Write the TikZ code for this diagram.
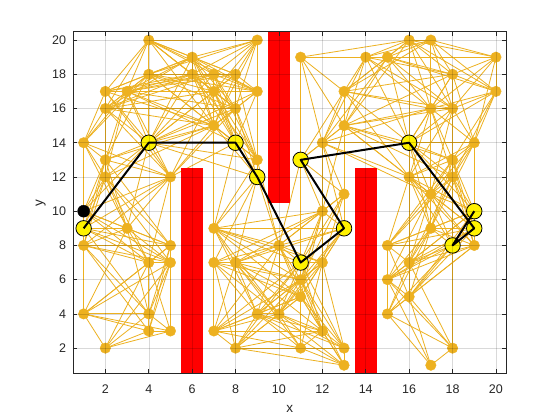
\documentclass[tikz,border=0pt]{standalone}
\usepackage{fontspec}
\setmainfont{Liberation Sans}
\definecolor{mlorange}{HTML}{EDB120}
\definecolor{axisgray}{HTML}{262626}
\tikzset{
  roadedge/.style={draw=mlorange, line width=0.8pt},
  roadnode/.style={circle, fill=mlorange, draw=mlorange, line width=0.4pt, minimum size=10.5pt, inner sep=0pt},
  pathnode/.style={circle, fill=yellow, draw=black, line width=0.8pt, minimum size=15.5pt, inner sep=0pt},
  startnode/.style={circle, fill=black, draw=black, minimum size=12pt, inner sep=0pt},
  pathline/.style={draw=black, line width=2pt, line join=round},
  obst/.style={fill=red},
  gridline/.style={draw=black, opacity=0.15, line width=0.5pt},
  axisline/.style={draw=axisgray, line width=0.6pt},
  ticklab/.style={text=axisgray, font=\fontsize{12.5}{14}\selectfont, inner sep=0pt},
  axlab/.style={text=axisgray, font=\fontsize{13.5}{15}\selectfont, inner sep=0pt},
}
\ExplSyntaxOn
\seq_new:N \g_rdm_x_seq
\seq_new:N \g_rdm_y_seq
\int_new:N \l_rdm_n_int
\int_new:N \l_rdm_dx_int
\int_new:N \l_rdm_dy_int
\tl_new:N \l_rdm_xa_tl
\tl_new:N \l_rdm_ya_tl
\tl_new:N \l_rdm_xb_tl
\tl_new:N \l_rdm_yb_tl
\tl_new:N \l_rdm_ddx_tl
\tl_new:N \l_rdm_ddy_tl
\cs_new_protected:Npn \rdm_add_pair:w #1/#2 \q_stop
  {
    \seq_gput_right:Nx \g_rdm_x_seq { \tl_trim_spaces:n {#1} }
    \seq_gput_right:Nx \g_rdm_y_seq { \tl_trim_spaces:n {#2} }
  }
\NewDocumentCommand \AddNodes { m }
  { \clist_map_inline:nn {#1} { \rdm_add_pair:w ##1 \q_stop } }
\cs_new:Npn \rdm_hit:nnnnnnnn #1#2#3#4#5#6#7#8
  {
    ( max ( 0 , min ( (#5-#1)/#3 , (#6-#1)/#3 ) , min ( (#7-#2)/#4 , (#8-#2)/#4 ) )
      < min ( 1 , max ( (#5-#1)/#3 , (#6-#1)/#3 ) , max ( (#7-#2)/#4 , (#8-#2)/#4 ) ) )
  }
\cs_new_protected:Npn \rdm_try:nn #1#2
  {
    \tl_set:Nx \l_rdm_xa_tl { \seq_item:Nn \g_rdm_x_seq {#1} }
    \tl_set:Nx \l_rdm_ya_tl { \seq_item:Nn \g_rdm_y_seq {#1} }
    \tl_set:Nx \l_rdm_xb_tl { \seq_item:Nn \g_rdm_x_seq {#2} }
    \tl_set:Nx \l_rdm_yb_tl { \seq_item:Nn \g_rdm_y_seq {#2} }
    \int_set:Nn \l_rdm_dx_int { \l_rdm_xb_tl - \l_rdm_xa_tl }
    \int_set:Nn \l_rdm_dy_int { \l_rdm_yb_tl - \l_rdm_ya_tl }
    \int_compare:nNnT
      { \l_rdm_dx_int * \l_rdm_dx_int + \l_rdm_dy_int * \l_rdm_dy_int } < { 37 }
      {
        \tl_set:Nx \l_rdm_ddx_tl { ( \int_use:N \l_rdm_dx_int + 0.000000001 ) }
        \tl_set:Nx \l_rdm_ddy_tl { ( \int_use:N \l_rdm_dy_int + 0.000000001 ) }
        \fp_compare:nNnF
          {
            \rdm_hit:nnnnnnnn {\l_rdm_xa_tl}{\l_rdm_ya_tl}{\l_rdm_ddx_tl}{\l_rdm_ddy_tl}{5.6}{6.4}{0}{12.4}
            ||
            \rdm_hit:nnnnnnnn {\l_rdm_xa_tl}{\l_rdm_ya_tl}{\l_rdm_ddx_tl}{\l_rdm_ddy_tl}{9.6}{10.4}{10.6}{21}
            ||
            \rdm_hit:nnnnnnnn {\l_rdm_xa_tl}{\l_rdm_ya_tl}{\l_rdm_ddx_tl}{\l_rdm_ddy_tl}{13.6}{14.4}{0}{12.4}
          } = { 1 }
          { \draw[roadedge](n#1)--(n#2); }
      }
  }
\NewDocumentCommand \PlaceCoords { }
  {
    \int_step_inline:nn { \seq_count:N \g_rdm_x_seq }
      {
        \use:e { \exp_not:N \coordinate(n##1)at(\seq_item:Nn \g_rdm_x_seq {##1},\seq_item:Nn \g_rdm_y_seq {##1}); }
      }
  }
\NewDocumentCommand \DrawEdges { }
  {
    \int_set:Nn \l_rdm_n_int { \seq_count:N \g_rdm_x_seq }
    \int_step_inline:nn { \l_rdm_n_int }
      {
        \int_step_inline:nnn { ##1 + 1 } { \l_rdm_n_int }
          { \rdm_try:nn {##1} {####1} }
      }
  }
\NewDocumentCommand \DrawRoadNodes { }
  {
    \int_step_inline:nn { \seq_count:N \g_rdm_x_seq }
      { \node[roadnode](rn##1)at(n##1){}; }
  }
\ExplSyntaxOff
\AddNodes{
1/10, 1/9, 4/14, 8/14, 9/12, 11/7, 13/9, 11/13, 16/14, 19/9, 18/8, 19/10,
4/20, 6/19, 9/20, 4/18, 6/18, 7/18, 8/18, 2/17, 3/17, 7/17, 9/17, 2/16, 8/16, 7/15, 1/14, 2/13, 9/13, 2/12, 5/12, 3/9, 1/8, 5/8, 4/7, 5/7, 1/4, 4/4, 4/3, 5/3, 2/2,
7/9, 7/7, 8/7, 7/3, 8/2, 9/4, 10/4, 10/8,
11/19, 14/19, 15/19, 13/17, 13/15, 12/14, 13/11, 12/10, 12/7, 11/6, 11/5, 12/3, 11/2, 13/2, 13/1,
16/20, 17/20, 20/19, 18/18, 20/17, 17/16, 18/16, 19/14, 18/13, 16/12, 18/12, 17/11, 17/9, 19/8, 15/8, 16/7, 15/6, 16/5, 15/4, 18/2, 17/1
}
\begin{document}
\begin{tikzpicture}[x=21.7pt, y=17.115pt]
\useasboundingbox (-2.855,-2.199) rectangle (22.952,22.34);
\fill[white] (-2.855,-2.199) rectangle (22.952,22.34);
\PlaceCoords
\DrawEdges
\fill[obst] (5.5,0.5) rectangle (6.5,12.5);
\fill[obst] (9.5,10.5) rectangle (10.5,20.5);
\fill[obst] (13.5,0.5) rectangle (14.5,12.5);
\DrawRoadNodes
\node[startnode] (st) at (1,10) {};
\node[pathnode] (p1) at (1,9) {};
\node[pathnode] (p2) at (4,14) {};
\node[pathnode] (p3) at (8,14) {};
\node[pathnode] (p4) at (9,12) {};
\node[pathnode] (p5) at (11,7) {};
\node[pathnode] (p6) at (13,9) {};
\node[pathnode] (p7) at (11,13) {};
\node[pathnode] (p8) at (16,14) {};
\node[pathnode] (p9) at (19,9) {};
\node[pathnode] (p10) at (18,8) {};
\node[pathnode] (p11) at (19,10) {};
\draw[pathline] (p1.center) -- (p2.center) -- (p3.center) -- (p4.center) -- (p5.center) -- (p6.center) -- (p7.center) -- (p8.center) -- (p9.center) -- (p10.center) -- (p11.center);
\foreach \v in {2,4,...,20} {
  \draw[gridline] (\v,0.5) -- (\v,20.5);
  \draw[gridline] (0.5,\v) -- (20.5,\v);
}
\draw[axisline] (0.5,0.5) rectangle (20.5,20.5);
\foreach \v in {2,4,...,20} {
  \draw[axisline] (\v,0.5) -- ++(0pt,4.3pt);
  \draw[axisline] (\v,20.5) -- ++(0pt,-4.3pt);
  \draw[axisline] (0.5,\v) -- ++(4.3pt,0pt);
  \draw[axisline] (20.5,\v) -- ++(-4.3pt,0pt);
  \node[ticklab, yshift=-15pt] (xt\v) at (\v,0.5) {\v};
  \node[ticklab, anchor=east, xshift=-6.5pt] (yt\v) at (0.5,\v) {\v};
}
\node[axlab, yshift=-35pt] (xlab) at (10.5,0.5) {x};
\node[axlab, rotate=90] (ylab) at ([xshift=-32pt]0.5,10.5) {y};
\end{tikzpicture}
\end{document}
